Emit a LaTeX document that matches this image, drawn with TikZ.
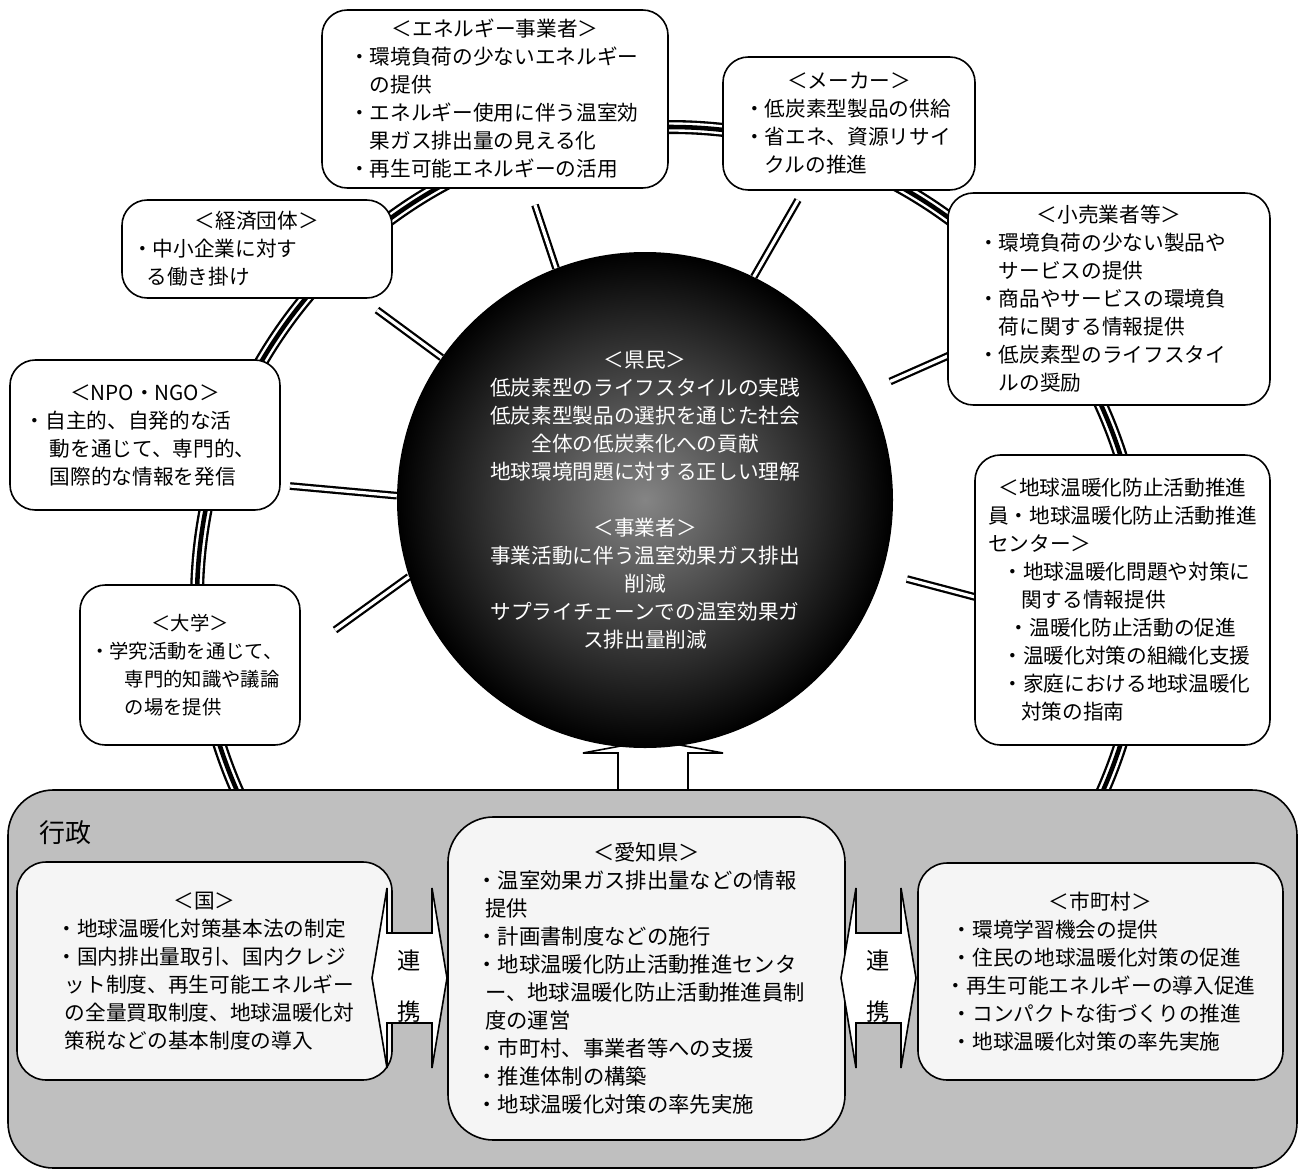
\documentclass[tikz,border=0pt]{standalone}
\usepackage{fontspec}
\setmainfont{Noto Sans CJK JP}
\usepackage{tikz}
\usetikzlibrary{calc}
\tikzset{>=latex}
\tikzstyle{actor}=[rectangle,draw=black,fill=white,line width=1.2pt,rounded corners=19pt,inner xsep=0pt,inner ysep=4pt,align=left,font=\fontsize{15.5}{21}\selectfont]
\tikzstyle{hub}=[circle,inner sep=0pt,inner color=black!48,outer color=black,text=white,align=center,font=\fontsize{15.5}{21}\selectfont]
\tikzstyle{govarea}=[rectangle,draw=black,fill=black!25,line width=1.2pt,rounded corners=34pt]
\tikzstyle{govbox}=[rectangle,draw=black,fill=black!4,line width=1.2pt,rounded corners=22pt,inner xsep=0pt,align=left,font=\fontsize{15.5}{21}\selectfont]
\tikzstyle{link}=[draw=black,line width=1.7pt,double=white,double distance=2.4pt]
\tikzstyle{blockarrow}=[draw=black,fill=white,line width=1.2pt,line join=miter]
\newcommand{\boxhead}[1]{\hspace*{\fill}#1\hspace*{\fill}\mbox{}}

\begin{document}
\begin{tikzpicture}[x=0.75pt,y=-0.75pt]
\def \pix {0.75pt};
\def \rring {473};

\fill[white] (0,0) rectangle (1304,1171);
\useasboundingbox (0,0) rectangle (1304,1171);

\coordinate (rc) at (670,600);
\foreach \w/\c in {10.5pt/black, 7pt/white, 3.4pt/black} {
	\draw[line width=\w, draw=\c] (rc) circle[radius=\rring];
};

\draw[blockarrow] (618,790) -- (618,753) -- (583,753) -- (653,740) -- (723,753) -- (688,753) -- (688,790) -- cycle;

\node[hub,minimum size=496*\pix] (ball) at (645,500) {%
＜県民＞\\
低炭素型のライフスタイルの実践\\
低炭素型製品の選択を通じた社会\\
全体の低炭素化への貢献\\
地球環境問題に対する正しい理解\\[21pt]
＜事業者＞\\
事業活動に伴う温室効果ガス排出\\
削減\\
サプライチェーンでの温室効果ガ\\
ス排出量削減};

\coordinate (cE) at (535,205);
\coordinate (cM) at (798,200);
\coordinate (cKZ) at (377,310);
\coordinate (cN) at (290,486);
\coordinate (cD) at (335,630);
\coordinate (cK) at (950,355);
\coordinate (cO) at (975,597);

\foreach \c/\a/\s in {cE/111/0pt, cM/64/0pt, cKZ/145/0pt, cN/179/0pt, cD/198/0pt, cK/26/18pt, cO/343.5/19pt} {
	\draw[link, shorten <=\s] (ball.\a) -- (\c);
};

\node[actor,text width=292*\pix,minimum width=346*\pix,minimum height=178*\pix] (E) at (495,99) {%
\boxhead{＜エネルギー事業者＞}\\
・環境負荷の少ないエネルギー\\
\hspace*{1em}の提供\\
・エネルギー使用に伴う温室効\\
\hspace*{1em}果ガス排出量の見える化\\
・再生可能エネルギーの活用};

\node[actor,text width=210*\pix,minimum width=252*\pix,minimum height=133*\pix] (M) at (849,123.5) {%
\boxhead{＜メーカー＞}\\
・低炭素型製品の供給\\
・省エネ、資源リサイ\\
\hspace*{1em}クルの推進};

\node[actor,text width=262*\pix,minimum width=322*\pix,minimum height=212*\pix] (K) at (1109,299) {%
\boxhead{＜小売業者等＞}\\
・環境負荷の少ない製品や\\
\hspace*{1em}サービスの提供\\
・商品やサービスの環境負\\
\hspace*{1em}荷に関する情報提供\\
・低炭素型のライフスタイ\\
\hspace*{1em}ルの奨励};

\node[actor,text width=269*\pix,minimum width=295*\pix,minimum height=290*\pix] (O) at (1122.5,600) {%
\boxhead{＜地球温暖化防止活動推進}\\
員・地球温暖化防止活動推進\\
センター＞\\
\hspace*{.7em}・地球温暖化問題や対策に\\
\hspace*{1.6em}関する情報提供\\
\hspace*{1em}・温暖化防止活動の促進\\
\hspace*{.7em}・温暖化対策の組織化支援\\
\hspace*{.7em}・家庭における地球温暖化\\
\hspace*{1.6em}対策の指南};

\node[actor,text width=250*\pix,minimum width=270*\pix,minimum height=98*\pix] (KZ) at (257,249) {%
\boxhead{＜経済団体＞}\\
・中小企業に対す\\
\hspace*{.7em}る働き掛け};

\node[actor,text width=240*\pix,minimum width=270*\pix,minimum height=150*\pix] (N) at (145,435) {%
\boxhead{＜NPO・NGO＞}\\
・自主的、自発的な活\\
\hspace*{1.2em}動を通じて、専門的、\\
\hspace*{1.2em}国際的な情報を発信};

\node[actor,font=\fontsize{14.5}{21}\selectfont,text width=200*\pix,minimum width=220*\pix,minimum height=160*\pix] (D) at (190,665) {%
\boxhead{＜大学＞}\\
・学究活動を通じて、\\
\hspace*{1.8em}専門的知識や議論\\
\hspace*{1.8em}の場を提供};

% administration
\node[govarea,minimum width=1289*\pix,minimum height=378*\pix] (gov) at (652.5,979) {};
\node[font=\fontsize{19.5}{24}\selectfont] (gyo) at (65,833) {行政};

\node[govbox,text width=296*\pix,minimum width=375*\pix,minimum height=218*\pix] (KU) at (204.5,971) {%
\boxhead{＜国＞}\\
・地球温暖化対策基本法の制定\\
・国内排出量取引、国内クレジ\\
\hspace*{.4em}ット制度、再生可能エネルギー\\
\hspace*{.4em}の全量買取制度、地球温暖化対\\
\hspace*{.4em}策税などの基本制度の導入};

\node[govbox,rounded corners=34pt,font=\fontsize{16}{21}\selectfont,text width=340*\pix,minimum width=397*\pix,minimum height=323*\pix] (AI) at (646.5,978.5) {%
\boxhead{＜愛知県＞}\\
・温室効果ガス排出量などの情報\\
\hspace*{.4em}提供\\
・計画書制度などの施行\\
・地球温暖化防止活動推進センタ\\
\hspace*{.4em}ー、地球温暖化防止活動推進員制\\
\hspace*{.4em}度の運営\\
・市町村、事業者等への支援\\
・推進体制の構築\\
・地球温暖化対策の率先実施};

\node[govbox,text width=310*\pix,minimum width=365*\pix,minimum height=217*\pix] (SH) at (1100.5,971.5) {%
\boxhead{＜市町村＞}\\
\hspace*{.3em}・環境学習機会の提供\\
\hspace*{.3em}・住民の地球温暖化対策の促進\\
・再生可能エネルギーの導入促進\\
\hspace*{.3em}・コンパクトな街づくりの推進\\
\hspace*{.3em}・地球温暖化対策の率先実施};

\foreach \cx/\nm in {409.5/renA, 878.5/renB} {
	\draw[blockarrow,shift={(\cx,978)}] (-22.5,-90) -- (-22.5,-45) -- (22.5,-45) -- (22.5,-90) -- (37.5,0) -- (22.5,90) -- (22.5,45) -- (-22.5,45) -- (-22.5,90) -- (-37.5,0) -- cycle;
	\node[font=\fontsize{17.5}{38}\selectfont,align=center] (\nm) at (\cx,986) {連\\携};
};

\end{tikzpicture}
\end{document}
